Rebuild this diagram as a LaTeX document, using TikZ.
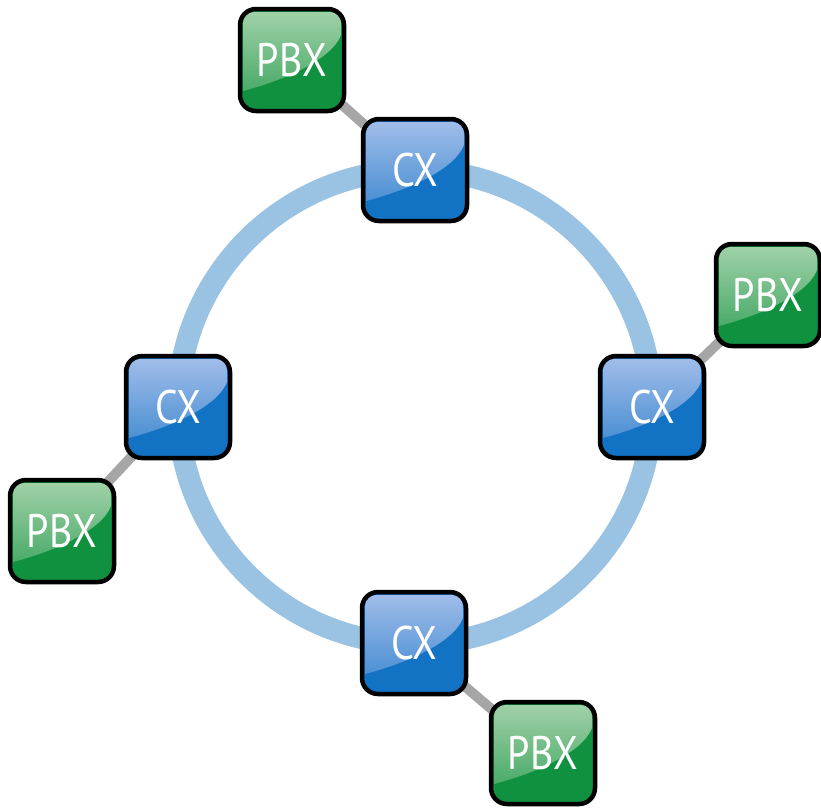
\documentclass[tikz,border=0pt]{standalone}
\usepackage{fontspec}
\newfontfamily\boxfont[FakeStretch=0.85]{PT Sans}
\usetikzlibrary{backgrounds}
\definecolor{ringblue}{HTML}{9AC2E2}
\definecolor{linkgray}{HTML}{A6A6A6}
\definecolor{cxfill}{HTML}{1272C4}
\definecolor{cxgloss}{HTML}{A3BEEA}
\definecolor{pbxfill}{HTML}{10913F}
\definecolor{pbxgloss}{HTML}{A3D2AA}
\tikzset{
  x=1pt, y=-1pt,
  % glossy highlight over the upper-left part of a box: #1 top, #2 lower edge
  gloss/.style 2 args={path picture={
    \fill[top color=#1, bottom color=#2]
      ([xshift=3pt,yshift=-3pt]path picture bounding box.north west)
      [rounded corners=11pt] -- ([xshift=-3pt,yshift=-3pt]path picture bounding box.north east)
      [sharp corners] -- ([xshift=-3pt,yshift=-26pt]path picture bounding box.north east)
      .. controls ([xshift=-14pt,yshift=-54pt]path picture bounding box.north east)
         and ([xshift=34pt,yshift=-74pt]path picture bounding box.north west)
      .. ([xshift=3pt,yshift=-82pt]path picture bounding box.north west)
      [rounded corners=11pt] -- cycle;
  }},
  devbox/.style={draw=black, line width=4.5pt, rounded corners=16pt,
    minimum width=104pt, minimum height=102pt, inner sep=0pt,
    text=white, font=\boxfont\fontsize{47}{47}\selectfont},
  cx/.style={devbox, fill=cxfill, gloss={cxgloss}{cxfill!75!cxgloss}},
  pbx/.style={devbox, fill=pbxfill, gloss={pbxgloss}{pbxfill!75!pbxgloss}},
  ring/.style={draw=ringblue, line width=22pt},
  link/.style={draw=linkgray, line width=10pt},
}
\begin{document}
\begin{tikzpicture}
\useasboundingbox (0,0) rectangle (821,809);
\coordinate (hub) at (415,407);

\node[cx] (cxN) at (415,170) {CX};
\node[cx] (cxE) at (652,407) {CX};
\node[cx] (cxS) at (414,643) {CX};
\node[cx] (cxW) at (178,407) {CX};

\node[pbx] (pbxN) at (292,60)  {PBX};
\node[pbx] (pbxE) at (768,295) {PBX};
\node[pbx] (pbxS) at (543,753) {PBX};
\node[pbx] (pbxW) at (62,531)  {PBX};

\begin{scope}[on background layer]
  \draw[ring] (hub) circle[radius=237];
  \draw[link] (cxN.center) -- (pbxN.center);
  \draw[link] (cxE.center) -- (pbxE.center);
  \draw[link] (cxS.center) -- (pbxS.center);
  \draw[link] (cxW.center) -- (pbxW.center);
\end{scope}
\end{tikzpicture}
\end{document}
